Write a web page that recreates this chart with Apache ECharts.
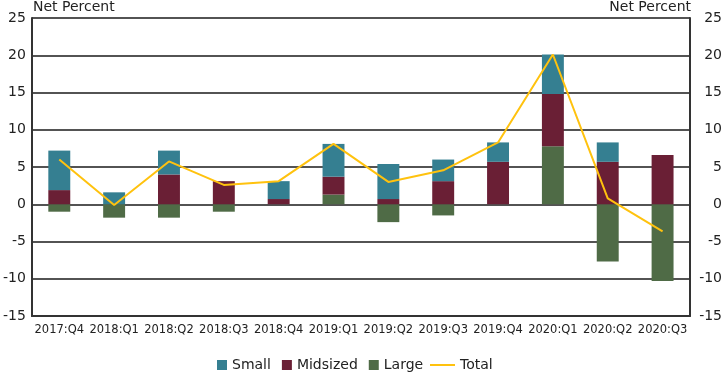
<!DOCTYPE html>
<html>
<head>
<meta charset="utf-8">
<script src="https://cdn.jsdelivr.net/npm/echarts@6/dist/echarts.min.js"></script>
<style>html,body{margin:0;padding:0;background:#fff}#c{width:725px;height:373px}</style>
</head>
<body>
<div id="c"></div>
<script>
var categories = ['2017:Q4','2018:Q1','2018:Q2','2018:Q3','2018:Q4','2019:Q1','2019:Q2','2019:Q3','2019:Q4','2020:Q1','2020:Q2','2020:Q3'];
var small    = [5.3, 1.6, 3.2, 0, 2.4, 4.4, 4.7, 2.9, 2.6, 5.3, 2.6, 0];
var midsized = [1.9, 0, 4.0, 3.1, 0.7, 2.4, 0.7, 3.1, 5.7, 7.0, 5.7, 6.6];
var large    = [-1.0, -1.8, -1.8, -1.0, 0, 1.3, -2.4, -1.5, 0, 7.8, -7.7, -10.3];
var total    = [6.0, -0.1, 5.75, 2.6, 3.1, 8.1, 3.0, 4.55, 8.3, 20.1, 0.8, -3.65];
var yTicks = {min: -15, max: 25, interval: 5};

var FONT = 'DejaVu Sans';
var TXT = '#222';
var chart = echarts.init(document.getElementById('c'), null, {renderer: 'canvas'});

function yAxis(pos) {
  return {
    type: 'value', position: pos,
    min: yTicks.min, max: yTicks.max, interval: yTicks.interval,
    axisLine: {show: true, lineStyle: {color: '#333', width: 2}},
    axisTick: {show: false},
    splitLine: {show: pos === 'left', lineStyle: {color: '#1a1a1a', width: 1.5}},
    axisLabel: pos === 'left'
      ? {color: TXT, fontFamily: FONT, fontSize: 14, margin: 6}
      : {color: TXT, fontFamily: FONT, fontSize: 14, margin: 32, align: 'right'}
  };
}

chart.setOption({
  animation: false,
  grid: {left: 31, right: 33, top: 18, bottom: 57, containLabel: false},
  graphic: [
    {type: 'text', left: 33, top: 0, style: {text: 'Net Percent', font: '14px "DejaVu Sans"', fill: TXT}},
    {type: 'text', right: 34, top: 0, style: {text: 'Net Percent', font: '14px "DejaVu Sans"', fill: TXT}}
  ],
  legend: [
    {data: ['Small', 'Midsized', 'Large'], left: 212, top: 353, itemWidth: 10, itemHeight: 10, itemGap: 11,
     icon: 'rect', textStyle: {color: TXT, fontFamily: FONT, fontSize: 14}},
    {data: ['Total'], left: 424, top: 353, itemWidth: 25, itemHeight: 10, itemStyle: {opacity: 0},
     textStyle: {color: TXT, fontFamily: FONT, fontSize: 14}}
  ],
  xAxis: {
    type: 'category', data: categories,
    axisLine: {onZero: false, lineStyle: {color: '#333', width: 2}},
    axisTick: {show: false},
    axisLabel: {color: TXT, fontFamily: FONT, fontSize: 11.5, margin: 8, interval: 0}
  },
  yAxis: [yAxis('left'), yAxis('right')],
  series: [
    {name: 'Large', type: 'bar', stack: 's', data: large, barWidth: '40%', itemStyle: {color: '#4F6B46'}},
    {name: 'Midsized', type: 'bar', stack: 's', data: midsized, barWidth: '40%', itemStyle: {color: '#6A1F35'}},
    {name: 'Small', type: 'bar', stack: 's', data: small, barWidth: '40%', itemStyle: {color: '#357F91'}},
    {name: 'Total', type: 'line', data: total, symbol: 'none', z: 5,
     lineStyle: {color: '#FFC20E', width: 2}, itemStyle: {color: '#FFC20E'}}
  ]
});
</script>
</body>
</html>
